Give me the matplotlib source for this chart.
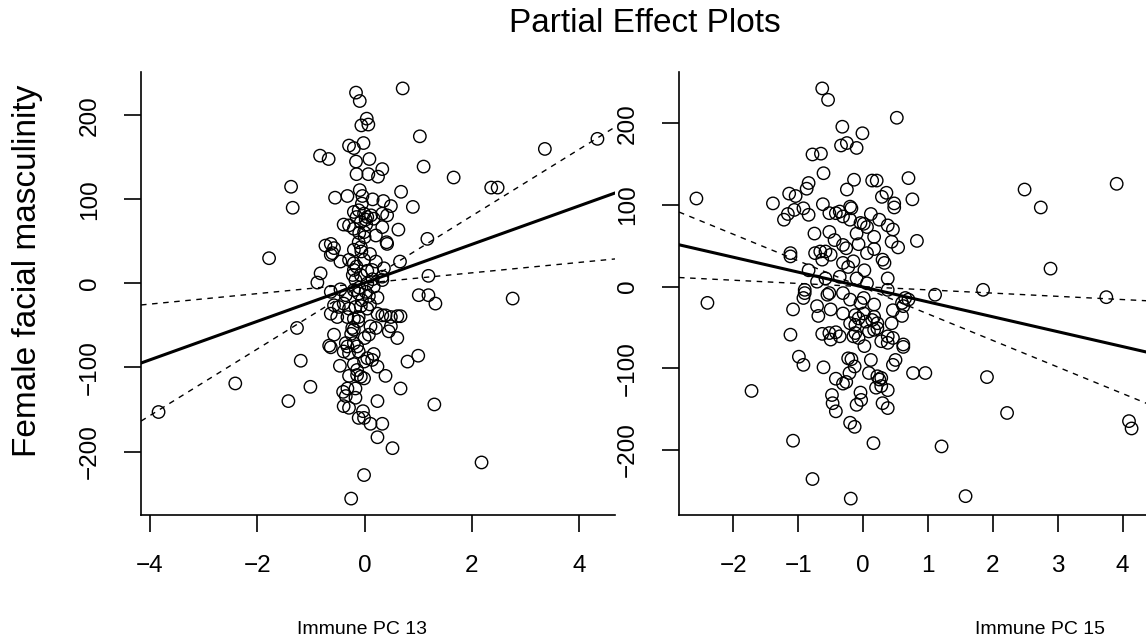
import numpy as np
import matplotlib
matplotlib.use("Agg")
import matplotlib.pyplot as plt

plt.rcParams['font.family'] = ['Liberation Sans', 'DejaVu Sans']

# ---------------- data ----------------
title = "Partial Effect Plots"
ylabel = "Female facial masculinity"
xlabel_left = "Immune PC 13"
xlabel_right = "Immune PC 15"

left_x = [0.71, -0.16, -0.09, 0.04, -0.06, 0.07, 1.03, -0.02, -0.29, -0.20, -0.83, -0.67, 3.36, 4.34,
          0.09, -0.16, 1.10, 0.33, -0.15, 0.07, 0.25, 1.66, -1.37, 2.36, 2.48, -1.34, -0.09, 0.68,
          -0.55, -0.32, -0.04, 0.35, 0.49, 0.90, -0.39, -0.29, 0.63, 1.17, -1.78, 0.66, -0.82, 1.19,
          -0.88, -0.63, 1.01, 1.19, 1.32, 2.76, -1.26, -0.66, -0.63, 1.00, 0.80, -1.19, -0.46, -2.41,
          -1.01, -1.42, 0.24, 1.30, -3.84, 0.24, 0.52, 2.18, -0.01, -0.25,
          -0.20, -0.11, -0.01, 0.05, 0.12, -0.15, -0.07, 0.02, 0.17, 0.33, 0.42, -0.20, -0.01, 0.21,
          0.33, 0.41, 0.42, -0.63, -0.73, -0.57, -0.60, -0.63, -0.11, -0.07, -0.06, -0.45, -0.29,
          -0.20, -0.01, 0.21, 0.36, 0.14, -0.20, -0.17, -0.07, 0.05, 0.17, 0.33, 0.33, -0.45, -0.35,
          -0.20, -0.11, 0.02, 0.24, -0.57, -0.48, -0.39, -0.29, -0.17, -0.07, 0.05, -0.63, -0.51,
          -0.32, -0.20, -0.11, 0.24, 0.33, 0.39, 0.49, 0.61, 0.67, -0.23, -0.20, 0.11, 0.21, 0.49,
          0.45, -0.57, 0.08, 0.61, -0.35, -0.32, -0.20, -0.14, -0.11, -0.29, -0.39, 0.17, 0.05,
          -0.01, 0.14, 0.24, -0.20, -0.14, -0.14, -0.07, -0.01, -0.29, 0.39, -0.17, -0.32, 0.67,
          -0.40, -0.35, -0.17, -0.39, -0.29, -0.03, -0.01, -0.11, 0.11, 0.33,
          -0.10, 0.00, -0.15, 0.05, -0.05, 0.10, -0.25, 0.00, -0.10, 0.15, -0.20, 0.10, -0.05, 0.15,
          -0.12, 0.08, -0.22, 0.03]
left_y = [232, 227, 217, 196, 188, 189, 175, 167, 164, 161, 152, 148, 160, 172,
          148, 145, 139, 136, 130, 130, 127, 126, 115, 114, 114, 90, 111, 109,
          102, 104, 104, 98, 92, 91, 70, 69, 64, 53, 30, 26, 12, 9,
          1, -10, -14, -14, -24, -18, -53, -74, -76, -86, -93, -92, -98, -119,
          -123, -140, -140, -144, -153, -183, -196, -213, -228, -256,
          85, 87, 83, 79, 81, 79, 73, 76, 77, 83, 81, 65, 61, 57,
          67, 49, 47, 47, 45, 42, 36, 34, 49, 43, 38, 26, 28,
          24, 28, 26, 18, 16, 16, 4, 10, 0, -4, 8, 4, -7, -14,
          -8, -12, -10, -17, -26, -28, -24, -30, -28, -27, -30, -36, -40,
          -40, -42, -40, -36, -38, -38, -40, -39, -39, -53, -55, -51, -53, -51,
          -57, -61, -61, -65, -71, -75, -71, -75, -81, -83, -81, -84, -89,
          -93, -91, -99, -96, -103, -109, -111, -113, -110, -110, -125, -125, -125,
          -129, -134, -136, -146, -148, -152, -160, -160, -167, -167,
          60, 55, 20, 15, -20, -25, -60, -65, -5, 5, 40, 35, 95, 100,
          -45, -15, 10, 70]

right_x = [-0.63, -0.54, 0.52, -0.32, -0.01, -0.34, -0.25, -0.10, -0.78, -0.65, -0.61, 0.70, -0.14,
           0.14, 0.21, -0.84, -0.87, -0.25, 2.49, 3.91, -1.14, -1.04, 0.36, 0.29, -2.57, 0.76, -1.39,
           -0.62, 0.48, 0.48, 2.74, -0.92, -1.06, -0.84, -1.22, -1.16, -0.75, 0.83, -1.12, -1.12,
           2.89, 1.11, 1.85, 3.75, -2.40, -1.08, -1.12,
           -0.52, -0.42, -0.36, -0.20, -0.18, -0.31, -0.20, -0.04, 0.01, 0.06, 0.12, 0.25, 0.38, 0.46,
           -0.52, -0.44, -0.10, 0.17, 0.44, 0.54, -0.31, -0.26, -0.07, 0.06, 0.17, 0.30, 0.33, 0.38,
           -0.74, -0.66, -0.58, -0.63, -0.50, -0.31, -0.23, -0.15, 0.02, -0.84, -0.71, -0.58, -0.36,
           -0.10, 0.06, 0.38, -0.90, -0.90, -0.92, -0.52, -0.55, -0.31, -0.20, -0.04, 0.01, 0.17,
           0.65, 0.70, 0.60, 0.62, -0.71, -0.69, -0.50, -0.31, -0.12, -0.07, 0.01, 0.17, 0.22, 0.46,
           0.60, 0.44, -0.20, -0.12, 0.04, 0.14, 0.22, -0.63, -0.52, -0.42, -0.36, -0.50, -0.12,
           -0.07, -0.15, 0.09, 0.17, 0.28, 0.38, 0.46, 0.38, 0.62, 0.62, 0.02, -0.99, -0.92, -0.61,
           -0.23, -0.18, -0.13, -0.21, 0.12, 0.46, 0.50, 0.09, 0.22, 0.28, 0.25, 0.77, 0.96, 1.91,
           -0.42, -0.31, -0.26, 0.20, 0.28, 0.38, -1.72, -0.48, -0.47, -0.42, -0.10, -0.03, -0.04,
           0.30, 0.38, 2.22, -0.20, -0.13, 4.10, 4.14, -1.08, 0.16, 1.21, -0.78, -0.19, 1.58]
right_y = [243, 229, 207, 196, 188, 173, 176, 170, 162, 163, 139, 133, 131,
           130, 130, 127, 120, 119, 119, 126, 114, 111, 115, 110, 108, 107, 102,
           101, 102, 97, 97, 96, 94, 88, 82, 89, 65, 56, 41, 37,
           22, -10, -4, -13, -20, -28, -59,
           90, 90, 92, 98, 96, 86, 82, 78, 77, 73, 89, 82, 75, 70,
           67, 57, 65, 61, 55, 48, 51, 47, 52, 41, 46, 33, 29, 10,
           41, 43, 43, 33, 39, 29, 24, 31, 20, 20, 6, 10, 12,
           10, 4, -4, -4, -8, -14, -8, -10, -8, -16, -20, -14, -22,
           -14, -16, -20, -24, -24, -36, -28, -33, -35, -39, -33, -37, -45, -29,
           -36, -45, -45, -47, -43, -41, -51, -58, -57, -56, -61, -65, -57,
           -63, -61, -55, -53, -67, -69, -63, -61, -71, -74, -73, -86, -96, -99,
           -88, -89, -98, -106, -90, -96, -90, -106, -110, -112, -114, -106, -106, -111,
           -113, -119, -117, -124, -122, -127, -128, -133, -143, -153, -145, -139, -130,
           -143, -149, -155, -167, -172, -165, -174, -189, -192, -196, -236, -260, -257]

# fitted partial effects: fit = slope * (x - xbar), band = fit +/- band_k * |x - xbar|
left_slope, left_xbar, left_band = 22.9, -0.03, 16.7
right_slope, right_xbar, right_band = -18.25, -0.03, 14.3

left_xticks = [-4, -2, 0, 2, 4]
right_xticks = [-2, -1, 0, 1, 2, 3, 4]
yticks = [-200, -100, 0, 100, 200]

# ---------------- figure ----------------
W, H = 1146, 643
fig = plt.figure(figsize=(W / 100, H / 100), dpi=100)


def rlim(v):
    lo, hi = min(v), max(v)
    d = (hi - lo) * 0.04
    return lo - d, hi + d


def panel(rect, xs, ys, slope, xbar, band, xticks):
    ax = fig.add_axes(rect)
    ax.scatter(xs, ys, s=80, facecolors='none', edgecolors='black', linewidths=1.0, zorder=3)
    xl = rlim(xs)
    yl = rlim(ys)
    xx = np.linspace(xl[0], xl[1], 400)
    fit = slope * (xx - xbar)
    hw = band * np.abs(xx - xbar)
    ax.plot(xx, fit, color='black', lw=2.2, zorder=4)
    ax.plot(xx, fit + hw, color='black', lw=1.0, ls=(0, (4, 4)), zorder=4)
    ax.plot(xx, fit - hw, color='black', lw=1.0, ls=(0, (4, 4)), zorder=4)
    ax.set_xlim(xl)
    ax.set_ylim(yl)
    ax.set_xticks(xticks)
    ax.set_yticks(yticks)
    ax.spines['top'].set_visible(False)
    ax.spines['right'].set_visible(False)
    for s in ('left', 'bottom'):
        ax.spines[s].set_linewidth(1.2)
    ax.tick_params(axis='both', direction='out', length=12, width=1.2, labelsize=17.5, pad=17)
    for lab in ax.get_yticklabels():
        lab.set_rotation(90)
        lab.set_va('center')
    return ax


ax1 = panel([141 / W, (H - 515) / H, (615 - 141) / W, (515 - 72) / H],
            left_x, left_y, left_slope, left_xbar, left_band, left_xticks)
ax2 = panel([679 / W, (H - 515) / H, (1149 - 679) / W, (515 - 72) / H],
            right_x, right_y, right_slope, right_xbar, right_band, right_xticks)

fig.text(645 / W, 1 - 24 / H, title, ha='center', va='center', fontsize=24)
fig.text(28 / W, 1 - 271 / H, ylabel, ha='center', va='center', rotation=90, fontsize=24)
fig.text(362 / W, 1 - 630 / H, xlabel_left, ha='center', va='center', fontsize=14)
fig.text(1040 / W, 1 - 630 / H, xlabel_right, ha='center', va='center', fontsize=14)

fig.savefig("out.png", dpi=100)
